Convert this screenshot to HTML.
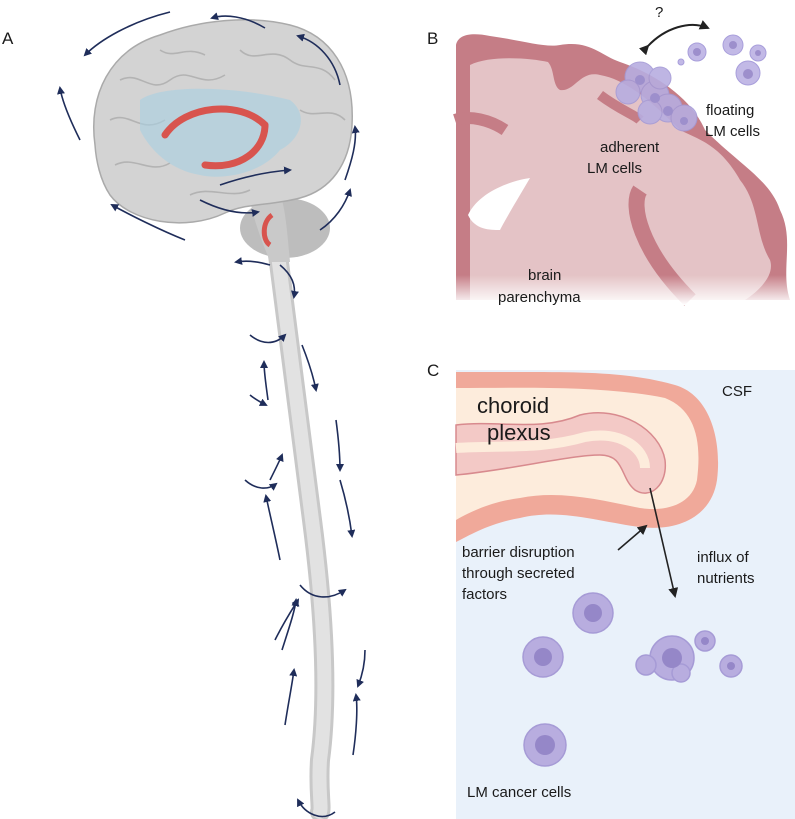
<!DOCTYPE html>
<html><head><meta charset="utf-8"><style>
html,body{margin:0;padding:0;background:#fff}
svg{display:block}
text{font-family:"Liberation Sans",Arial,sans-serif;fill:#1a1a1a}
</style></head><body>
<svg width="795" height="819" viewBox="0 0 795 819" xmlns="http://www.w3.org/2000/svg">
<defs>
<marker id="ah" markerWidth="8" markerHeight="8" refX="6" refY="4" orient="auto" markerUnits="userSpaceOnUse"><path d="M0,0 L8,4 L0,8 Z" fill="#1f2d5a"/></marker>
<marker id="bk" markerWidth="10" markerHeight="10" refX="8" refY="5" orient="auto" markerUnits="userSpaceOnUse"><path d="M0,0 L10,5 L0,10 Z" fill="#222"/></marker>
<linearGradient id="fadeB" x1="0" y1="0" x2="0" y2="1"><stop offset="0.6" stop-color="#fff" stop-opacity="0"/><stop offset="1" stop-color="#fff" stop-opacity="1"/></linearGradient>
</defs>

<!-- Panel A -->
<text x="2" y="44" font-size="17">A</text>
<path d="M278,255 C288,330 300,420 312,520 C325,620 328,700 320,760 C318,790 322,808 320,812" stroke="#c8c8c8" stroke-width="20" fill="none" stroke-linecap="round"/>
<path d="M278,255 C288,330 300,420 312,520 C325,620 328,700 320,760 C318,790 322,808 320,812" stroke="#e2e2e2" stroke-width="14" fill="none" stroke-linecap="round"/>
<ellipse cx="285" cy="228" rx="45" ry="30" fill="#bdbdbd"/>
<path d="M250,200 C256,230 266,250 270,262 L290,262 C288,240 286,215 282,200 Z" fill="#c9c9c9"/>
<path d="M95,145 C88,95 110,50 160,35 C200,20 250,15 290,25 C330,35 355,70 352,125 C350,165 330,190 300,198 C270,206 245,203 225,213 C185,232 130,222 110,195 C100,180 96,160 95,145 Z" fill="#d3d3d3" stroke="#aaa" stroke-width="1.5"/>
<g stroke="#b3b3b3" stroke-width="1.6" fill="none">
<path d="M120,80 C140,70 150,95 170,80 C190,65 200,90 225,75"/>
<path d="M110,120 C130,110 140,135 165,120"/>
<path d="M240,50 C255,65 270,45 290,60 C305,72 320,60 335,80"/>
<path d="M115,165 C135,155 150,175 170,163"/>
<path d="M300,110 C315,120 330,105 345,120"/>
<path d="M190,195 C210,185 230,200 250,190"/>
<path d="M160,50 C175,60 185,45 205,55"/>
</g>
<path d="M140,100 C160,85 230,85 290,100 C310,115 300,140 280,150 C260,175 220,180 200,175 C170,170 150,150 140,130 Z" fill="#a9d0e3" opacity="0.6"/>
<path d="M165,135 C185,105 240,100 265,125" stroke="#d8544e" stroke-width="7" fill="none" stroke-linecap="round"/>
<path d="M205,165 C240,170 265,150 265,125" stroke="#d8544e" stroke-width="7" fill="none" stroke-linecap="round"/>
<path d="M272,215 C262,222 262,240 270,245" stroke="#d8544e" stroke-width="5" fill="none"/>
<g stroke="#1f2d5a" stroke-width="1.6" fill="none" marker-end="url(#ah)">
<path d="M265,28 C245,16 225,14 212,18"/>
<path d="M340,85 C335,60 318,42 298,36"/>
<path d="M80,140 C70,120 62,100 60,88"/>
<path d="M170,12 C130,22 100,40 85,55"/>
<path d="M185,240 C160,230 130,215 112,205"/>
<path d="M345,180 C352,160 357,142 355,127"/>
<path d="M220,185 C240,178 265,172 290,170"/>
<path d="M200,200 C220,210 240,215 258,212"/>
<path d="M320,230 C335,220 345,205 350,190"/>
<path d="M270,265 C260,262 248,260 236,262"/>
<path d="M280,265 C292,275 296,285 294,297"/>
<path d="M250,335 C262,345 275,345 285,335"/>
<path d="M268,400 C266,385 264,372 264,362"/>
<path d="M302,345 C308,360 313,375 316,390"/>
<path d="M250,395 C256,400 262,403 266,405"/>
<path d="M270,480 C275,470 280,460 282,455"/>
<path d="M336,420 C338,435 340,455 340,470"/>
<path d="M245,480 C256,490 268,490 276,484"/>
<path d="M280,560 C276,540 270,515 266,496"/>
<path d="M340,480 C346,500 350,520 352,536"/>
<path d="M300,585 C312,600 330,600 345,590"/>
<path d="M282,650 C290,625 295,610 296,600"/>
<path d="M365,650 C365,665 362,676 358,686"/>
<path d="M275,640 C285,620 295,605 298,600"/>
<path d="M285,725 C288,705 292,685 294,670"/>
<path d="M353,755 C356,735 358,710 356,695"/>
<path d="M335,812 C322,822 305,814 298,800"/>
</g>

<!-- Panel B -->
<text x="427" y="44" font-size="17">B</text>
<path d="M456,300 L456,45 C458,35 470,32 490,36 C520,40 545,48 560,45 C590,40 600,55 620,62 C650,72 690,95 705,130 C740,165 770,180 780,210 C795,240 780,270 790,300 Z" fill="#c57d86"/>
<path d="M470,300 L470,65 C490,55 530,58 548,62 C555,70 552,85 560,90 C575,92 580,70 600,75 C630,80 660,110 680,130 C700,140 720,145 740,180 C760,205 755,235 770,260 C775,275 760,290 745,300 Z" fill="#e4c3c6"/>
<path d="M455,120 C470,115 490,120 505,130" stroke="#c57d86" stroke-width="12" fill="none"/>
<path d="M640,190 C630,205 640,250 690,300" stroke="#c57d86" stroke-width="16" fill="none"/>
<path d="M600,95 C620,110 635,115 640,120" stroke="#c57d86" stroke-width="10" fill="none"/>
<path d="M468,215 C480,190 515,180 530,178 C520,195 505,220 500,230 C490,230 475,230 468,215 Z" fill="#fff"/>
<rect x="455" y="230" width="340" height="75" fill="url(#fadeB)"/>
<g fill="#b7ade0" stroke="#a49ad6" stroke-width="1" opacity="0.9">
<circle cx="640" cy="77" r="15"/><circle cx="655" cy="95" r="14"/><circle cx="628" cy="92" r="12"/><circle cx="668" cy="108" r="14"/><circle cx="684" cy="118" r="13"/><circle cx="650" cy="112" r="12"/><circle cx="660" cy="78" r="11"/>
</g>
<g fill="#9d8fcc"><circle cx="640" cy="80" r="5"/><circle cx="655" cy="98" r="5"/><circle cx="668" cy="111" r="5"/><circle cx="684" cy="121" r="4"/></g>
<g fill="#c2b9e6" stroke="#a89edb"><circle cx="697" cy="52" r="9"/><circle cx="733" cy="45" r="10"/><circle cx="758" cy="53" r="8"/><circle cx="748" cy="73" r="12"/><circle cx="681" cy="62" r="3"/></g>
<g fill="#9d8fcc"><circle cx="697" cy="52" r="4"/><circle cx="733" cy="45" r="4"/><circle cx="748" cy="74" r="5"/><circle cx="758" cy="53" r="3"/></g>
<path d="M648,46 C665,28 690,20 708,28" stroke="#222" stroke-width="2" fill="none" marker-end="url(#bk)" marker-start="url(#bk)"/>
<text x="655" y="17" font-size="15">?</text>
<text x="706" y="115" font-size="15">floating</text>
<text x="705" y="136" font-size="15">LM cells</text>
<text x="600" y="152" font-size="15">adherent</text>
<text x="587" y="173" font-size="15">LM cells</text>
<text x="528" y="280" font-size="15">brain</text>
<text x="498" y="302" font-size="15">parenchyma</text>

<!-- Panel C -->
<text x="427" y="376" font-size="17">C</text>
<rect x="456" y="370" width="339" height="449" fill="#e9f1fa"/>
<path d="M456,372 L520,372 C580,372 630,372 675,385 C710,395 722,440 717,480 C712,515 680,532 640,527 C600,522 560,508 520,518 C490,523 470,535 456,542 Z" fill="#f0a99a"/>
<path d="M456,388 C520,388 600,385 665,398 C695,410 702,440 697,480 C692,505 665,512 640,508 C600,500 560,490 520,498 C490,502 470,512 456,520 Z" fill="#fdecdc"/>
<path d="M456,425 C500,420 540,432 580,415 C620,405 660,430 665,460 C668,485 650,500 635,490 C620,478 625,455 600,455 C570,455 510,470 456,475 Z" fill="#f3c9c6" stroke="#d88a8e" stroke-width="1.5"/>
<path d="M456,448 C500,445 540,450 585,437 C620,430 645,448 645,468" stroke="#fdecdc" stroke-width="10" fill="none"/>
<text x="477" y="413" font-size="22">choroid</text>
<text x="487" y="440" font-size="22">plexus</text>
<text x="722" y="396" font-size="15">CSF</text>
<path d="M650,488 L675,596" stroke="#222" stroke-width="1.6" marker-end="url(#bk)"/>
<path d="M618,550 L646,526" stroke="#222" stroke-width="1.6" marker-end="url(#bk)"/>
<text x="462" y="557" font-size="15">barrier disruption</text>
<text x="462" y="578" font-size="15">through secreted</text>
<text x="462" y="599" font-size="15">factors</text>
<text x="697" y="562" font-size="15">influx of</text>
<text x="697" y="583" font-size="15">nutrients</text>
<g fill="#b8addf" stroke="#a69bd6" stroke-width="1.5">
<circle cx="593" cy="613" r="20"/><circle cx="543" cy="657" r="20"/><circle cx="672" cy="658" r="22"/><circle cx="646" cy="665" r="10"/><circle cx="705" cy="641" r="10"/><circle cx="681" cy="673" r="9"/><circle cx="731" cy="666" r="11"/><circle cx="545" cy="745" r="21"/>
</g>
<g fill="#9587c8"><circle cx="593" cy="613" r="9"/><circle cx="543" cy="657" r="9"/><circle cx="672" cy="658" r="10"/><circle cx="545" cy="745" r="10"/><circle cx="731" cy="666" r="4"/><circle cx="705" cy="641" r="4"/></g>
<text x="467" y="797" font-size="15">LM cancer cells</text>
</svg>
</body></html>
